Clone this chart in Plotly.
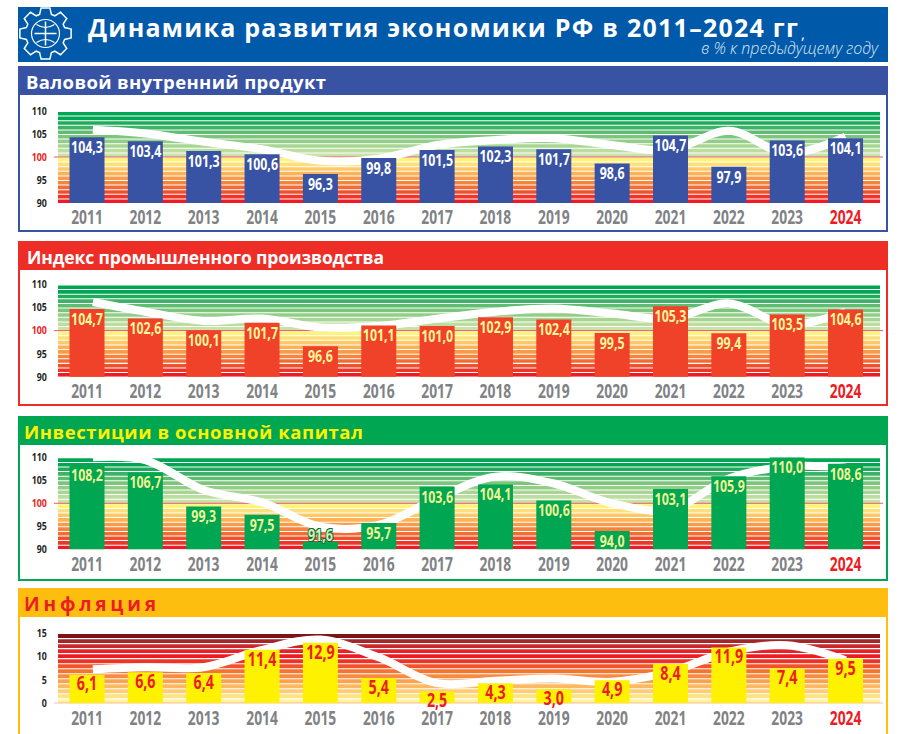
import math
import plotly.graph_objects as go

YEARS = [2011, 2012, 2013, 2014, 2015, 2016, 2017, 2018, 2019, 2020, 2021, 2022, 2023, 2024]
GDP = [104.3, 103.4, 101.3, 100.6, 96.3, 99.8, 101.5, 102.3, 101.7, 98.6, 104.7, 97.9, 103.6, 104.1]
GDP_CURVE = [105.9, 105.1, 103.3, 101.7, 99.2, 99.6, 102.6, 103.7, 104.1, 102.6, 101.5, 105.7, 100.8, 104.4]
IPP = [104.7, 102.6, 100.1, 101.7, 96.6, 101.1, 101.0, 102.9, 102.4, 99.5, 105.3, 99.4, 103.5, 104.6]
IPP_CURVE = [106.2, 104.1, 102.1, 102.6, 100.7, 101.0, 102.6, 104.1, 104.8, 103.7, 102.6, 105.9, 101.3, 104.1]
INV = [108.2, 106.7, 99.3, 97.5, 91.6, 95.7, 103.6, 104.1, 100.6, 94.0, 103.1, 105.9, 110.0, 108.6]
INV_CURVE = [110.0, 109.4, 102.9, 100.2, 94.9, 95.3, 101.1, 105.8, 104.3, 100.0, 98.6, 105.4, 108.0, 107.8]
CPI = [6.1, 6.6, 6.4, 11.4, 12.9, 5.4, 2.5, 4.3, 3.0, 4.9, 8.4, 11.9, 7.4, 9.5]
CPI_CURVE = [7.25, 7.7, 7.7, 11.4, 13.6, 9.8, 4.3, 4.8, 5.3, 4.6, 6.75, 11.0, 12.4, 9.2]

W, H = 905, 734
HEAD = "Open Sans"
GREEN_STRIPES = ["#C9E2A8", "#BBDD9E", "#A8D593", "#93CE88", "#7CC67C", "#5FBC72", "#3EB266", "#1FAB5C", "#00A651", "#00A651"]
WARM_STRIPES = ["#FFF37A", "#FFDF78", "#FFC966", "#FDB258", "#F99B49", "#F6843C", "#F36C34", "#F0502E", "#EE3528", "#ED1C24"]
CPI_STRIPES = ["#7F1416", "#A3262A", "#C9282E", "#E5232A", "#ED1C24", "#EF3327", "#F1542B", "#F47432", "#F78C40", "#FAA350", "#FDB962", "#FFCD75", "#FFE283", "#FFF498"]

PANELS = [
    dict(title="Валовой внутренний продукт", vals=GDP, curve=GDP_CURVE, color="#3953A4", top=67, bot=231, band=95,
         py0=111, py1=203, rng=(90, 110), ticks=[90, 95, 100, 105, 110], tcol="#FFFFFF", lab="#FFFFFF", bar="#3953A4",
         x=24, size=18.5, tw=300, ref=100),
    dict(title="Индекс промышленного производства", vals=IPP, curve=IPP_CURVE, color="#EE2D27", top=242, bot=405, band=270,
         py0=284.5, py1=376.7, rng=(90, 110), ticks=[90, 95, 100, 105, 110], tcol="#FFFFFF", lab="#FFF799", bar="#F04129",
         x=25, size=17.5, tw=357, ref=100),
    dict(title="Инвестиции в основной капитал", vals=INV, curve=INV_CURVE, color="#00A651", top=417, bot=580, band=445,
         py0=457.3, py1=549.3, rng=(90, 110), ticks=[90, 95, 100, 105, 110], tcol="#FFF200", lab="#F0F493", bar="#00A651",
         x=22, size=18.5, tw=339, ref=100),
    dict(title="Инфляция", vals=CPI, curve=CPI_CURVE, color="#FDBE10", top=589, bot=745, band=617,
         py0=633, py1=703.3, rng=(0, 15), ticks=[0, 5, 10, 15], tcol="#ED1C24", lab="#ED1C24", bar="#FFF200",
         x=22, size=19, tw=132, ref=0),
]

XL, XR = 58.0, 880.0
C0, STEP = 87.0, 58.35
XRANGE = [(XL - C0) / STEP, (XR - C0) / STEP]
idx = list(range(len(YEARS)))
xticktext = [(f'<span style="color:#ED1C24">{y}</span>' if y == YEARS[-1] else str(y)) for y in YEARS]

def px(v): return v / W
def py(v): return 1 - v / H

fig = go.Figure()
shapes, annos = [], []

def rect(x0, y0, x1, y1, fill=None, line=None, lw=0):
    shapes.append(dict(type="rect", xref="paper", yref="paper", x0=px(x0), x1=px(x1), y0=py(y1), y1=py(y0),
                       fillcolor=fill or "rgba(0,0,0,0)", line=dict(color=line or "rgba(0,0,0,0)", width=lw), layer="below"))

rect(18, 7, 888, 62, fill="#0059A9")

gx, gy = 45.5, 33.5
pts = []
teeth = 8
for i in range(teeth):
    a = 2 * math.pi * i / teeth - math.pi / 2
    for da, r in [(-0.30, 20), (-0.17, 26), (0.17, 26), (0.30, 20)]:
        pts.append((gx + r * math.cos(a + da), gy + r * math.sin(a + da)))
path = "M " + " L ".join(f"{px(x):.5f},{py(y):.5f}" for x, y in pts) + " Z"
shapes.append(dict(type="path", xref="paper", yref="paper", path=path, line=dict(color="#FFFFFF", width=1.5), layer="below"))
shapes.append(dict(type="circle", xref="paper", yref="paper", x0=px(gx - 14), x1=px(gx + 14), y0=py(gy + 14), y1=py(gy - 14),
                   line=dict(color="#FFFFFF", width=1.2), layer="below"))
for (a, b, c, d) in [(gx, gy - 12, gx, gy + 12), (gx - 11, gy, gx + 11, gy)]:
    shapes.append(dict(type="line", xref="paper", yref="paper", x0=px(a), y0=py(b), x1=px(c), y1=py(d),
                       line=dict(color="#FFFFFF", width=1.5), layer="below"))
for off in (-1, 1):
    shapes.append(dict(type="path", xref="paper", yref="paper",
                       path=f"M {px(gx-9):.5f},{py(gy+off*9):.5f} Q {px(gx):.5f},{py(gy+off*3):.5f} {px(gx+9):.5f},{py(gy+off*9):.5f}",
                       line=dict(color="#FFFFFF", width=1.2), layer="below"))

TITLE = "Динамика развития экономики РФ в 2011–2024 гг"
annos.append(dict(text=TITLE, x=px(85.5), y=py(27.5), xref="paper", yref="paper",
                  xanchor="left", yanchor="middle", showarrow=False, font=dict(family=HEAD, size=25, color="#FFFFFF", weight=700)))
annos.append(dict(text=",", x=px(799), y=py(33), xref="paper", yref="paper", xanchor="left", yanchor="middle", showarrow=False,
                  font=dict(family=HEAD, size=15, color="#FFFFFF")))
annos.append(dict(text="<i>в % к предыдущему году</i>", x=px(881), y=py(47.5), xref="paper", yref="paper", xanchor="right",
                  yanchor="middle", showarrow=False, font=dict(family=HEAD, size=16, color="#DDE6F2", weight=300)))

layout_axes = {}
for n, p in enumerate(PANELS):
    a1 = 2 * n + 1
    a2 = 2 * n + 2
    xn1, yn1 = f"xaxis{a1}", f"yaxis{a1}"
    xn2, yn2 = f"xaxis{a2}", f"yaxis{a2}"
    ydom = [max(0, py(p["py1"])), py(p["py0"])]
    xdom = [px(XL), px(XR)]

    rect(19, p["top"], 887, p["bot"], fill="#FFFFFF", line=p["color"], lw=2)
    rect(18, p["top"], 888, p["band"], fill=p["color"])

    annos.append(dict(text=p["title"], x=px(p["x"]), y=py((p["top"] + p["band"]) / 2 + 0.5), xref="paper", yref="paper", xanchor="left",
                      yanchor="middle", showarrow=False, font=dict(family=HEAD, size=p["size"], color=p["tcol"], weight=700)))

    lo, hi = p["rng"]
    if p["ref"] == 100:
        cols = list(reversed(WARM_STRIPES)) + GREEN_STRIPES
    else:
        cols = list(reversed(CPI_STRIPES))
    sh = (hi - lo) / len(cols)
    for i, c in enumerate(cols):
        shapes.append(dict(type="rect", xref="paper", yref=f"y{a1 if a1 > 1 else ''}", x0=xdom[0], x1=xdom[1],
                           y0=lo + i * sh, y1=lo + i * sh + sh * 0.78, fillcolor=c, line=dict(width=0), layer="below"))
    shapes.append(dict(type="line", xref="paper", yref=f"y{a1 if a1 > 1 else ''}", x0=px(54), x1=px(883), y0=p["ref"], y1=p["ref"],
                       line=dict(color="#EE5A60", width=1), layer="below"))

    fig.add_trace(go.Scatter(x=[0.1] + idx[1:], y=p["curve"], mode="lines", line=dict(color="#FFFFFF", width=8, shape="spline", smoothing=1.0),
                             xaxis=f"x{a1}", yaxis=f"y{a1}", hoverinfo="skip", showlegend=False))
    fig.add_trace(go.Bar(x=idx, y=p["vals"], width=0.6, marker=dict(color=p["bar"], line=dict(width=0)),
                         xaxis=f"x{a2}", yaxis=f"y{a2}", showlegend=False))
    labs = [f"{v:.1f}".replace(".", ",") for v in p["vals"]]
    low = [lo + (hi - lo) * 0.15 > v for v in p["vals"]] if p["ref"] == 100 else [False] * len(idx)
    fs = 19 if p["ref"] == 0 else 16.5
    keep = [i for i in idx if not low[i]]
    fig.add_trace(go.Scatter(x=keep, y=[p["vals"][i] for i in keep], text=[labs[i] for i in keep], mode="text",
                             textposition="bottom center", cliponaxis=False,
                             textfont=dict(family=HEAD, size=fs, color=p["lab"], weight=700),
                             xaxis=f"x{a2}", yaxis=f"y{a2}", hoverinfo="skip", showlegend=False))
    over = [i for i in idx if low[i]]
    if over:
        fig.add_trace(go.Scatter(x=over, y=[p["vals"][i] for i in over], text=[labs[i] for i in over], mode="text",
                                 textposition="top center", cliponaxis=False,
                                 textfont=dict(family=HEAD, size=fs, color="#D8EDB8", weight=700,
                                               shadow="1px 1px 0 #00733A, -1px -1px 0 #00733A, 1px -1px 0 #00733A, -1px 1px 0 #00733A"),
                                 xaxis=f"x{a2}", yaxis=f"y{a2}", hoverinfo="skip", showlegend=False))

    yticktext = [(f'<span style="color:#ED1C24">{t}</span>' if (t == 100) else str(t)) for t in p["ticks"]]
    layout_axes[xn1] = dict(domain=xdom, range=XRANGE, anchor=f"y{a1}", showgrid=False, zeroline=False, showline=False,
                            tickmode="array", tickvals=idx, ticktext=xticktext, ticks="outside", ticklen=1,
                            tickcolor="rgba(0,0,0,0)", tickfont=dict(family=HEAD, size=19.5, color="#808285", weight=700))
    layout_axes[yn1] = dict(domain=ydom, range=list(p["rng"]), anchor=f"x{a1}", showgrid=False, zeroline=False, showline=False,
                            tickmode="array", tickvals=p["ticks"], ticktext=yticktext, ticks="outside", ticklen=8,
                            tickcolor="rgba(0,0,0,0)", tickfont=dict(family=HEAD, size=11, color="#231F20", weight=700))
    layout_axes[xn2] = dict(domain=xdom, range=XRANGE, anchor=f"y{a2}", overlaying=f"x{a1}", visible=False)
    layout_axes[yn2] = dict(domain=ydom, range=list(p["rng"]), anchor=f"x{a2}", overlaying=f"y{a1}", visible=False)

fig.update_layout(width=W, height=H, margin=dict(l=0, r=0, t=0, b=0, autoexpand=False), paper_bgcolor="#FFFFFF", plot_bgcolor="rgba(0,0,0,0)",
                  shapes=shapes, annotations=annos, showlegend=False, **layout_axes)

WIDTHS = [[TITLE, 710]] + [[p["title"], p["tw"]] for p in PANELS]
post = ("document.body.style.margin='0';document.body.style.overflow='hidden';const S=" + str(WIDTHS).replace("'", '"') + ";"
        "document.querySelectorAll('.annotation-text').forEach(e=>{const t=e.textContent;"
        "for(const [a,b] of S){if(t===a){const bb=e.getBBox();e.setAttribute('x',bb.x);e.setAttribute('text-anchor','start');"
        "e.style.textAnchor='start';e.setAttribute('textLength',b);e.setAttribute('lengthAdjust','spacing');}}});"
        "const squeeze=(q,f,dy)=>document.querySelectorAll(q).forEach(e=>{const L=e.getComputedTextLength();"
        "e.setAttribute('textLength',L*f);e.setAttribute('lengthAdjust','spacingAndGlyphs');"
        "if(dy){e.setAttribute('y',parseFloat(e.getAttribute('y'))+dy);}});"
        "squeeze('.xtick text,.x3tick text,.x5tick text,.x7tick text',0.71,-4);"
        "squeeze('.ytick text,.y3tick text,.y5tick text,.y7tick text',0.8,0);"
        "squeeze('.x2y2 .textpoint text,.x4y4 .textpoint text,.x6y6 .textpoint text',0.75,3.5);"
        "squeeze('.x8y8 .textpoint text',0.75,1.5);")
fig.write_html("out.html", post_script=post, config={"displayModeBar": False})
